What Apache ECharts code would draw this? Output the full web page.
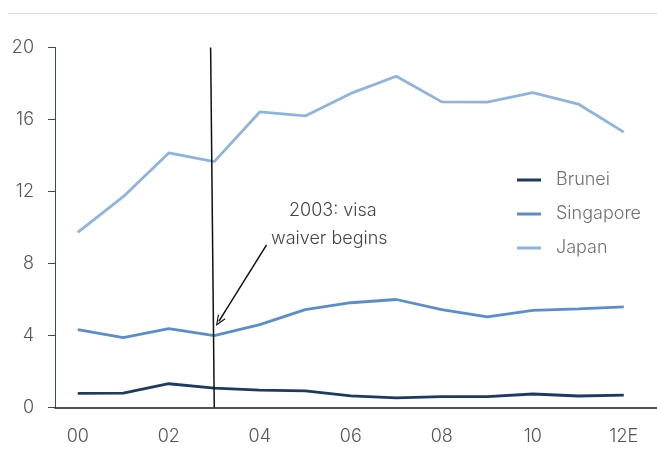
<!DOCTYPE html>
<html><head><meta charset="utf-8">
<script src="https://cdn.jsdelivr.net/npm/echarts@6/dist/echarts.min.js"></script>
<style>html,body{margin:0;padding:0;background:#fff}#c{width:657px;height:452px}</style>
</head><body><div id="c"></div>
<script>
const years = ['00','01','02','03','04','05','06','07','08','09','10','11','12E'];
const tickLabels = ['00','02','04','06','08','10','12E'];
const brunei = [0.78, 0.80, 1.32, 1.08, 0.97, 0.92, 0.65, 0.53, 0.60, 0.60, 0.75, 0.64, 0.69];
const singapore = [4.32, 3.88, 4.38, 3.99, 4.60, 5.44, 5.82, 6.00, 5.44, 5.03, 5.40, 5.48, 5.59];
const japan = [9.73, 11.71, 14.14, 13.66, 16.42, 16.20, 17.45, 18.40, 16.98, 16.97, 17.49, 16.86, 15.30];
const visaYear = '03';

const FONT = 'Inter';
const FW = 300;
const pairs = arr => arr.map((v, i) => [i, v]);
const tickIdx = tickLabels.map(t => years.indexOf(t));
const visaIdx = years.indexOf(visaYear);

const chart = echarts.init(document.getElementById('c'));
chart.setOption({
  animation: false,
  grid: { left: 55, right: 0, top: 47.5, bottom: 44.5, containLabel: false },
  xAxis: {
    type: 'value', min: -0.5, max: 12.73,
    axisLine: { show: true, onZero: false, lineStyle: { color: '#1a1a1a', width: 1.5 } },
    axisTick: { show: false },
    splitLine: { show: false },
    axisLabel: {
      customValues: tickIdx, margin: 20,
      formatter: v => years[Math.round(v)],
      color: '#555', fontSize: 18, fontFamily: FONT, fontWeight: FW
    }
  },
  yAxis: {
    type: 'value', min: 0, max: 20, interval: 4,
    axisLine: { show: true, onZero: false, lineStyle: { color: '#2d4d6d', width: 1 } },
    axisTick: { show: true, length: 7, lineStyle: { color: '#2d4d6d' } },
    splitLine: { show: false },
    axisLabel: { margin: 21, color: '#555', fontSize: 18, fontFamily: FONT, fontWeight: FW }
  },
  legend: {
    orient: 'vertical', left: 512, top: 166, itemGap: 16,
    itemWidth: 24, itemHeight: 3, icon: 'rect',
    textStyle: { color: '#707070', fontSize: 18, fontFamily: FONT, fontWeight: FW, padding: [0, 0, 0, 10] },
    data: ['Brunei', 'Singapore', 'Japan']
  },
  series: [
    { name: 'Brunei', type: 'line', data: pairs(brunei), showSymbol: false, color: '#1d3a63',
      lineStyle: { width: 2.8 } },
    { name: 'Singapore', type: 'line', data: pairs(singapore), showSymbol: false, color: '#5b8dcc',
      lineStyle: { width: 2.8 },
      markLine: {
        silent: true, animation: false,
        symbol: ['none', 'path://M5,0 L10,11 L8.6,11 L5,3 L1.4,11 L0,11 Z'],
        symbolSize: [9, 11],
        label: { show: false },
        lineStyle: { color: '#111', width: 1.5, type: 'solid' },
        data: [
          [ { coord: [visaIdx - 0.08, 20] }, { coord: [visaIdx, 0], symbol: 'none' } ],
          [ { coord: [visaIdx + 1.15, 9.03] }, { coord: [visaIdx + 0.1, 4.78] } ]
        ]
      }
    },
    { name: 'Japan', type: 'line', data: pairs(japan), showSymbol: false, color: '#8fb3df',
      lineStyle: { width: 2.8 } }
  ],
  graphic: [
    { type: 'line', shape: { x1: 8, y1: 13.5, x2: 657, y2: 13.5 }, style: { stroke: '#d9d9e0', lineWidth: 1 } },
    { type: 'text', left: 289, top: 202, style: { text: '2003: visa', fill: '#444', font: FW + ' 18px ' + FONT } },
    { type: 'text', left: 271, top: 230, style: { text: 'waiver begins', fill: '#444', font: FW + ' 18px ' + FONT } }
  ]
});
</script></body></html>
